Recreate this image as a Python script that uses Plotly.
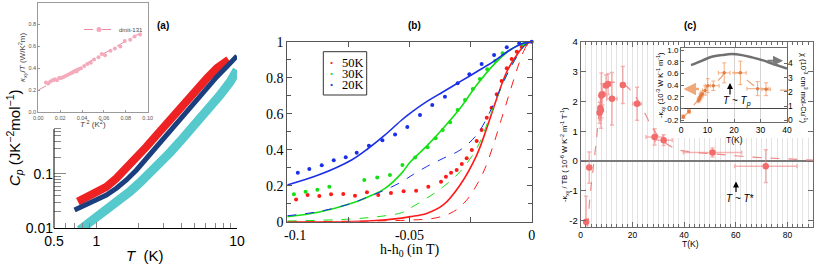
import plotly.graph_objects as go

W, H = 830, 264
def X(px): return px / W
def Y(py): return 1 - py / H

SANS = "Liberation Sans, Arial, sans-serif"
SERIF = "Liberation Serif, Times New Roman, serif"

# ---------------- panel (a) main : Cp vs T (log-log)
a_T_red = [0.739, 0.848, 1.0, 1.179, 1.389, 1.637, 1.93, 2.275, 2.683, 3.162, 3.728, 4.394, 5.18, 6.11, 7.2, 8.72]
a_Cp_red = [0.031, 0.038, 0.047, 0.058, 0.083, 0.127, 0.195, 0.318, 0.52, 0.86, 1.40, 2.31, 3.78, 5.78, 8.85, 12.6]
a_T_navy = [0.70, 0.848, 1.0, 1.179, 1.389, 1.637, 1.93, 2.275, 2.683, 3.162, 3.728, 4.394, 5.18, 6.11, 7.2, 8.48, 10.0]
a_Cp_navy = [0.0217, 0.028, 0.0347, 0.041, 0.0546, 0.0776, 0.1186, 0.195, 0.318, 0.522, 0.859, 1.40, 2.31, 3.78, 6.19, 9.46, 14.9]
a_T_cyan = [0.760, 0.896, 1.056, 1.245, 1.467, 1.729, 2.038, 2.402, 2.83, 3.337, 3.93, 4.64, 5.47, 6.44, 7.59, 8.95, 10.0]
a_Cp_cyan = [0.0093, 0.0127, 0.0169, 0.0233, 0.0332, 0.0472, 0.0692, 0.103, 0.157, 0.247, 0.394, 0.627, 1.02, 1.69, 2.85, 5.0, 8.2]

# ---------------- panel (a) inset
ai_T2 = [0.007, 0.009, 0.011, 0.013, 0.015, 0.017, 0.019, 0.021, 0.023, 0.025, 0.027, 0.029, 0.031, 0.033,
         0.035, 0.037, 0.039, 0.042, 0.045, 0.048, 0.051, 0.055, 0.058, 0.061, 0.066, 0.070, 0.075, 0.079,
         0.084, 0.088, 0.093]
ai_k = [0.27, 0.26, 0.28, 0.29, 0.30, 0.29, 0.31, 0.31, 0.32, 0.33, 0.34, 0.35, 0.36, 0.37, 0.37, 0.39,
        0.40, 0.42, 0.44, 0.45, 0.48, 0.50, 0.53, 0.52, 0.56, 0.58, 0.60, 0.65, 0.66, 0.69, 0.71]
ai_fit_T2 = [0.0, 0.1]
ai_fit_k = [0.2, 0.76]

# ---------------- panel (b)
b20_line_x = [-0.1, -0.0873, -0.0737, -0.0668, -0.060, -0.0532, -0.0498, -0.043, -0.0362, -0.0293, -0.0225, -0.0157, -0.0089, -0.0034, 0]
b20_line_y = [0.204, 0.259, 0.343, 0.408, 0.482, 0.565, 0.602, 0.667, 0.722, 0.778, 0.833, 0.889, 0.954, 0.991, 1.0]
b20_x = [-0.0957, -0.0910, -0.0859, -0.0810, -0.0761, -0.0716, -0.0666, -0.0611, -0.0559, -0.0509, -0.0457,
         -0.0407, -0.0355, -0.0303, -0.0255, -0.0205, -0.0154, -0.0102, -0.0051, 0]
b20_y = [0.272, 0.293, 0.313, 0.341, 0.358, 0.383, 0.422, 0.452, 0.485, 0.526, 0.593, 0.648, 0.694, 0.769,
         0.819, 0.876, 0.926, 0.969, 0.991, 1.0]
b20_dash_x = [-0.1, -0.0873, -0.0737, -0.0668, -0.060, -0.0532, -0.0484, -0.043, -0.0362, -0.0293, -0.0225, -0.0184, -0.0143, -0.0102, -0.0061, -0.0027, 0]
b20_dash_y = [0.033, 0.056, 0.102, 0.139, 0.176, 0.222, 0.263, 0.306, 0.352, 0.398, 0.482, 0.574, 0.694, 0.815, 0.917, 0.982, 1.0]

b30_line_x = [-0.1, -0.0873, -0.0737, -0.0668, -0.060, -0.0532, -0.0498, -0.043, -0.0362, -0.0293, -0.0225, -0.0157, -0.0089, -0.0034, 0]
b30_line_y = [0.028, 0.052, 0.102, 0.139, 0.185, 0.27, 0.33, 0.42, 0.519, 0.63, 0.759, 0.87, 0.954, 0.991, 1.0]
b30_x = [-0.0973, -0.0925, -0.0877, -0.0828, -0.0685, -0.0632, -0.058, -0.0529, -0.0477, -0.0426, -0.0393,
         -0.0364, -0.0334, -0.0303, -0.0273, -0.0241, -0.0212, -0.0182, -0.015, -0.0119, -0.0034]
b30_y = [0.152, 0.167, 0.178, 0.194, 0.232, 0.245, 0.259, 0.315, 0.357, 0.413, 0.463, 0.509, 0.552, 0.621,
         0.676, 0.737, 0.793, 0.847, 0.893, 0.936, 0.985]
b30_dash_x = [-0.1, -0.0737, -0.060, -0.0532, -0.0498, -0.043, -0.0362, -0.0293, -0.0225, -0.0184, -0.0143, -0.0102, -0.0061, -0.0027, 0]
b30_dash_y = [0.004, 0.015, 0.033, 0.05, 0.075, 0.13, 0.194, 0.278, 0.407, 0.537, 0.685, 0.815, 0.917, 0.982, 1.0]

b50_line_x = [-0.1, -0.0668, -0.0532, -0.0498, -0.043, -0.0362, -0.0293, -0.0225, -0.0184, -0.0143, -0.0102, -0.0061, -0.0027, 0]
b50_line_y = [0.0, 0.004, 0.02, 0.028, 0.046, 0.093, 0.204, 0.37, 0.519, 0.685, 0.833, 0.926, 0.982, 1.0]
b50_x = [-0.0964, -0.0917, -0.0869, -0.0821, -0.0771, -0.0723, -0.0674, -0.0628, -0.0576, -0.0524, -0.0473,
         -0.0423, -0.0371, -0.0351, -0.033, -0.0307, -0.0286, -0.0266, -0.0245, -0.0225, -0.0205, -0.0184,
         -0.0164, -0.0143, -0.0123, -0.0102, -0.0082, -0.0061, -0.0041, -0.0023]
b50_y = [0.124, 0.148, 0.143, 0.152, 0.154, 0.144, 0.163, 0.148, 0.159, 0.169, 0.172, 0.194, 0.222, 0.25,
         0.272, 0.287, 0.32, 0.352, 0.398, 0.448, 0.509, 0.578, 0.633, 0.708, 0.782, 0.852, 0.904, 0.944,
         0.972, 0.987]
b50_dash_x = [-0.1, -0.0498, -0.0389, -0.032, -0.0266, -0.0225, -0.0191, -0.0157, -0.0123, -0.0089, -0.0061, -0.0034, -0.0014, 0]
b50_dash_y = [0.0, 0.009, 0.022, 0.056, 0.12, 0.204, 0.296, 0.426, 0.574, 0.722, 0.843, 0.944, 0.991, 1.0]
b_legend = ["50K", "30K", "20K"]

# ---------------- panel (c) main
c_T = [2.1, 3.3, 7.3, 7.6, 7.8, 8.0, 8.4, 9.8, 10.6, 12.1, 16.3, 21.8, 28.6, 32.1, 51.0, 71.6]
c_k = [-2.03, -0.22, 1.62, 1.78, 1.70, 2.20, 2.24, 2.53, 2.58, 2.09, 2.55, 1.92, 0.81, 0.70, 0.29, -0.17]
c_kerr = [0.85, 0.52, 0.35, 0.40, 0.60, 0.75, 0.35, 0.35, 0.35, 0.88, 0.62, 0.55, 0.27, 0.18, 0.15, 0.55]
c_Terr = [0.3, 0.3, 0.3, 0.3, 0.3, 0.5, 0.8, 0.8, 0.8, 2.0, 0.0, 1.6, 3.3, 3.3, 11.3, 12.0]
c_fit_T = [2.7, 3.6, 4.9, 6.2, 7.1, 8.8, 10.7, 13.9, 17.2, 20.4, 23.6, 27.5, 31.4, 36.5, 40.4, 52.6, 65.4, 78.2, 90]
c_fit_k = [-2.2, -1.19, -0.19, 0.81, 1.6, 2.37, 2.62, 2.63, 2.54, 2.26, 1.82, 1.15, 0.70, 0.42, 0.33, 0.23, 0.14, 0.08, 0.03]

# ---------------- panel (c) inset
ci_T = [0.9, 3.0, 6.6, 7.0, 7.3, 7.6, 8.0, 9.1, 10.1, 12.2, 16.3, 22.4, 28.9, 32.1]
ci_k = [-0.14, -0.05, 0.14, 0.17, 0.20, 0.23, 0.25, 0.31, 0.39, 0.39, 0.61, 0.61, 0.34, 0.33]
ci_kerr = [0.03, 0.03, 0.04, 0.04, 0.05, 0.05, 0.05, 0.08, 0.12, 0.08, 0.17, 0.2, 0.12, 0.11]
ci_Terr = [0.5, 0.5, 0.3, 0.3, 0.3, 0.3, 0.5, 1.0, 1.0, 2.2, 2.2, 2.2, 4.0, 1.6]
ci_line_T = [0.3, 3.0, 7.3, 10.1, 12.2, 15.5, 16.3, 22.4, 24.5, 28.9, 32.1, 40]
ci_line_k = [-0.17, -0.05, 0.2, 0.39, 0.40, 0.55, 0.61, 0.61, 0.5, 0.34, 0.33, 0.31]
chi_T = [3.8, 7.8, 11.6, 15.4, 19.2, 23.0, 26.8, 30.6, 34.3, 38.1, 40]
chi_v = [3.88, 4.19, 4.47, 4.59, 4.66, 4.59, 4.43, 4.24, 4.0, 3.76, 3.64]

RED, GREEN, BLUE = "#ff1a1a", "#14e014", "#1a2fe8"
fig = go.Figure()

# (a) main
fig.add_trace(go.Scatter(x=a_T_cyan, y=a_Cp_cyan, mode="lines", line=dict(color="#55c9cc", width=9),
                         xaxis="x", yaxis="y", showlegend=False))
fig.add_trace(go.Scatter(x=a_T_red, y=a_Cp_red, mode="lines", line=dict(color="#ee2222", width=8),
                         xaxis="x", yaxis="y", showlegend=False))
fig.add_trace(go.Scatter(x=a_T_navy, y=a_Cp_navy, mode="lines", line=dict(color="#1b3f7e", width=5),
                         xaxis="x", yaxis="y", showlegend=False))
# (a) inset
fig.add_trace(go.Scatter(x=ai_fit_T2, y=ai_fit_k, mode="lines", line=dict(color="#e88aa0", width=1, dash="dash"),
                         xaxis="x2", yaxis="y2", showlegend=False))
fig.add_trace(go.Scatter(x=ai_T2, y=ai_k, mode="markers", marker=dict(color="#f4aabb", size=4),
                         xaxis="x2", yaxis="y2", showlegend=False))
fig.add_trace(go.Scatter(x=[None], y=[None], mode="lines+markers", name="dmit-131",
                         marker=dict(color="#f4aabb", size=5, symbol="circle"),
                         line=dict(color="#e88aa0", width=1, dash="dash"),
                         xaxis="x2", yaxis="y2", showlegend=True))

# (b)
for lx, ly, dx, dy, px_, py_, col in [
    (b50_line_x, b50_line_y, b50_dash_x, b50_dash_y, b50_x, b50_y, RED),
    (b30_line_x, b30_line_y, b30_dash_x, b30_dash_y, b30_x, b30_y, GREEN),
    (b20_line_x, b20_line_y, b20_dash_x, b20_dash_y, b20_x, b20_y, BLUE),
]:
    fig.add_trace(go.Scatter(x=dx, y=dy, mode="lines", line=dict(color=col, width=1, dash="dash", shape="spline"),
                             xaxis="x3", yaxis="y3", showlegend=False))
    fig.add_trace(go.Scatter(x=lx, y=ly, mode="lines", line=dict(color=col, width=1.6, shape="spline"),
                             xaxis="x3", yaxis="y3", showlegend=False))
    fig.add_trace(go.Scatter(x=px_, y=py_, mode="markers", marker=dict(color=col, size=4),
                             xaxis="x3", yaxis="y3", showlegend=False, cliponaxis=False))

# (c) main
fig.add_trace(go.Scatter(x=c_fit_T, y=c_fit_k, mode="lines",
                         line=dict(color="#ef8a8a", width=1.2, dash="dash", shape="spline"),
                         xaxis="x4", yaxis="y4", showlegend=False))
fig.add_trace(go.Scatter(x=c_T, y=c_k, mode="markers",
                         marker=dict(color="#f26c6c", size=6.5),
                         error_y=dict(type="data", array=c_kerr, color="rgba(240,120,120,0.55)", thickness=1.5, width=2),
                         error_x=dict(type="data", array=c_Terr, color="rgba(240,120,120,0.55)", thickness=1.5, width=2),
                         xaxis="x4", yaxis="y4", showlegend=False))
# (c) inset
fig.add_trace(go.Scatter(x=chi_T, y=chi_v, mode="lines", line=dict(color="#707070", width=2.5, shape="spline"),
                         xaxis="x5", yaxis="y6", showlegend=False))
fig.add_trace(go.Scatter(x=ci_line_T, y=ci_line_k, mode="lines", line=dict(color="#eba070", width=1.2, dash="dash"),
                         xaxis="x5", yaxis="y5", showlegend=False))
fig.add_trace(go.Scatter(x=ci_T, y=ci_k, mode="markers", marker=dict(color="#e27d45", size=3.5),
                         error_y=dict(type="data", array=ci_kerr, color="#f2ad80", thickness=1, width=2),
                         error_x=dict(type="data", array=ci_Terr, color="#f2ad80", thickness=1, width=2),
                         xaxis="x5", yaxis="y5", showlegend=False))

gray = "#888888"
layout = dict(
    width=W, height=H, autosize=False,
    margin=dict(l=0, r=0, t=0, b=0, pad=0),
    paper_bgcolor="white", plot_bgcolor="white",
    font=dict(family=SANS, color="black"),
    # ---- (a) main
    xaxis=dict(type="log", range=[-0.30103, 1.0], domain=[X(54), X(237)], anchor="y", automargin=False,
               showline=True, linecolor="black", linewidth=1, showgrid=False, zeroline=False,
               tickvals=[0.5, 1, 10], ticktext=["0.5", "1", "10"], ticks="inside", ticklen=6,
               tickcolor=gray, tickfont=dict(family=SANS, size=14),
               minor=dict(tickvals=[0.6, 0.7, 0.8, 0.9, 2, 3, 4, 5, 6, 7, 8, 9], ticks="inside",
                          ticklen=5, tickcolor=gray, showgrid=False)),
    yaxis=dict(type="log", range=[-2.0, 1.3], domain=[Y(228.3), Y(49)], anchor="x", automargin=False,
               showline=False, showgrid=False, zeroline=False,
               tickvals=[0.01, 0.1], ticktext=["0.01", "0.1"], ticks="inside", ticklen=12,
               tickcolor=gray, tickfont=dict(family=SANS, size=14),
               minor=dict(tickvals=[0.02, 0.03, 0.04, 0.05, 0.06, 0.07, 0.08, 0.09, 0.2, 0.3, 0.4, 0.5, 0.6, 0.7],
                          ticks="inside", ticklen=7, tickcolor=gray, showgrid=False)),
    # ---- (a) inset
    xaxis2=dict(range=[0, 0.1], domain=[X(38.3), X(147.7)], anchor="y2", automargin=False,
                showline=True, mirror=True,
                linecolor="#9a9a9a", linewidth=1, showgrid=False, zeroline=False, dtick=0.02, tickformat=".2f",
                ticks="inside", ticklen=2, tickcolor="#9a9a9a", tickfont=dict(size=5.5, color="#555")),
    yaxis2=dict(range=[0, 1], domain=[Y(112), Y(2.7)], anchor="x2", automargin=False,
                showline=True, mirror=True,
                linecolor="#9a9a9a", linewidth=1, showgrid=False, zeroline=False, dtick=0.2, tickformat=".1f",
                ticks="inside", ticklen=2, tickcolor="#9a9a9a", tickfont=dict(size=5.5, color="#555")),
    # ---- (b)
    xaxis3=dict(range=[-0.1, 0], domain=[X(287.3), X(531.7)], anchor="y3", automargin=False,
                showline=True, mirror="ticks",
                linecolor="#555", linewidth=1, showgrid=False, zeroline=False,
                tickvals=[-0.1, -0.05, 0], ticktext=["", "-0.05", "0"], ticks="inside", ticklen=5,
                tickcolor="#555", tickfont=dict(family=SERIF, size=14),
                minor=dict(tickvals=[-0.075, -0.025], ticks="inside", ticklen=5, tickcolor="#555", showgrid=False)),
    yaxis3=dict(range=[0, 1], domain=[Y(221.7), Y(41.7)], anchor="x3", automargin=False,
                showline=True, mirror="ticks",
                linecolor="#555", linewidth=1, showgrid=False, zeroline=False,
                tickvals=[0, 0.2, 0.4, 0.6, 0.8, 1], ticktext=["0", "0.2", "0.4", "0.6", "0.8", "1"],
                ticks="inside", ticklen=5, tickcolor="#555", tickfont=dict(family=SERIF, size=14),
                minor=dict(tickvals=[0.1, 0.3, 0.5, 0.7, 0.9], ticks="inside", ticklen=4, tickcolor="#555", showgrid=False)),
    # ---- (c) main
    xaxis4=dict(range=[0, 90], domain=[X(580.7), X(813.3)], anchor="y4", automargin=False,
                showline=True, mirror="ticks",
                linecolor="#6a6a6a", linewidth=1.2, zeroline=False,
                tickvals=[0, 20, 40, 60, 80], ticks="inside", ticklen=5, tickcolor="#6a6a6a",
                showgrid=True, gridcolor="#e3e3e3", gridwidth=1, tickfont=dict(size=8.5),
                minor=dict(dtick=2, tick0=0, ticks="inside", ticklen=3, tickcolor="#6a6a6a",
                           showgrid=True, gridcolor="#e3e3e3", gridwidth=1)),
    yaxis4=dict(range=[-2.2, 4.0], domain=[Y(226.7), Y(41.7)], anchor="x4", automargin=False,
                showline=True, mirror="ticks",
                linecolor="#6a6a6a", linewidth=1.2, showgrid=False,
                zeroline=True, zerolinecolor="#7a7a7a", zerolinewidth=2,
                tickvals=[-2, -1, 0, 1, 2, 3, 4], ticktext=["-2", "-1", "0", "1", "2", "3", "4"],
                ticks="inside", ticklen=5, tickcolor="#6a6a6a", tickfont=dict(size=9.5)),
    # ---- (c) inset
    xaxis5=dict(range=[0, 40], domain=[X(681), X(787)], anchor="y5", automargin=False,
                showline=True, mirror=True,
                linecolor="#6a6a6a", linewidth=1, zeroline=False, dtick=10, ticks="inside", ticklen=3,
                tickcolor="#6a6a6a", showgrid=True, gridcolor="#d4d4d4", tickfont=dict(size=8.5)),
    yaxis5=dict(range=[-0.23, 1.03], domain=[Y(122), Y(48.3)], anchor="x5", automargin=False,
                showline=True, mirror=True,
                linecolor="#6a6a6a", linewidth=1, showgrid=False,
                zeroline=True, zerolinecolor="#444", zerolinewidth=1.3,
                tickvals=[-0.2, 0, 0.2, 0.4, 0.6, 0.8, 1.0],
                ticktext=["-0.2", "0.0", "0.2", "0.4", "0.6", "0.8", "1.0"],
                ticks="inside", ticklen=3, tickcolor="#6a6a6a", tickfont=dict(size=8)),
    yaxis6=dict(range=[-0.12, 5.07], overlaying="y5", anchor="x5", side="right", showgrid=False,
                automargin=False, zeroline=False, showline=False, tickvals=[0, 1, 2, 3, 4], ticks="inside",
                ticklen=3, tickcolor="#6a6a6a", tickfont=dict(size=8.5)),
    legend=dict(x=X(79), y=Y(15), xanchor="left", yanchor="top", bgcolor="rgba(0,0,0,0)",
                font=dict(size=6, color="#444"), itemwidth=30, borderwidth=0, tracegroupgap=0),
)
fig.update_layout(**layout)

# decorative shapes
fig.add_shape(type="line", xref="paper", yref="paper", x0=X(54), x1=X(54), y0=Y(228.3), y1=Y(129),
              line=dict(color="black", width=1))
fig.add_shape(type="rect", xref="paper", yref="paper", x0=X(323.3), x1=X(366.7), y0=Y(95), y1=Y(51.7),
              line=dict(color="#333", width=1), fillcolor="white", layer="below")
fig.add_shape(type="rect", xref="x4", yref="y4", x0=29.0, x1=90, y0=0.77, y1=4.0,
              line=dict(width=0), fillcolor="white", layer="between")

ann = []
def txt(px, py, text, size, family=SANS, angle=0, xanchor="center", color="black"):
    ann.append(dict(x=X(px), y=Y(py), xref="paper", yref="paper", text=text, showarrow=False,
                    font=dict(size=size, family=family, color=color), textangle=angle,
                    xanchor=xanchor, yanchor="middle"))

# (a)
txt(163, 25, "<b>(a)</b>", 10)
txt(14, 138, "<i>C<sub>p</sub></i> (JK<sup>−2</sup>mol<sup>−1</sup>)", 15, angle=-90)
txt(145, 255, "<i>T</i>  (K)", 15)
txt(93, 124, "<i>T</i><sup> 2</sup> (K<sup>2</sup>)", 8, color="#444")
txt(22, 57, "<i>κ<sub>xy</sub></i>/<i>T</i> (W/K<sup>2</sup>m)", 8, angle=-90, color="#444")
# (b)
txt(414, 25, "<b>(b)</b>", 10)
txt(295, 235, "-0.1", 14, family=SERIF)
txt(409.5, 250, "h-h<sub>0</sub> (in T)", 14, family=SERIF)
for i, (lab, col) in enumerate(zip(b_legend, [RED, GREEN, BLUE])):
    py = 62.8 + 11.0 * i
    txt(331, py, "•", 9, family=SERIF, color=col)
    txt(339.5, py + 0.5, lab, 12.5, family=SERIF, xanchor="left")
# (c)
txt(690, 25, "<b>(c)</b>", 10)
txt(690, 244, "T(K)", 8.5)
txt(564, 155, "-κ<sub>xy</sub> / TB ( 10<sup>-6</sup> W K<sup>-2</sup> m<sup>-1</sup> T<sup>-1</sup>)", 7.5, angle=-90)
txt(734, 139.5, "T(K)", 8.5)
txt(660, 85, "-κ<sub>xy</sub> (10<sup>-3</sup> W K<sup>-1</sup> m<sup>-1</sup>)", 7.5, angle=-90)
txt(804, 88, "χ (10<sup>-3</sup> cm<sup>3</sup> mol-Cu<sup>-1</sup>)", 7.5, angle=90)
txt(737, 101, "<i>T</i> ~ <i>T<sub>p</sub></i>", 10)
txt(740, 198, "<i>T</i> ~ <i>T</i>*", 10)

def arrow(hx, hy, dx, dy, color, width, head=2, size=1):
    ann.append(dict(x=X(hx), y=Y(hy), xref="paper", yref="paper", text="", showarrow=True,
                    ax=dx, ay=dy, arrowcolor=color, arrowwidth=width, arrowhead=head, arrowsize=size))

arrow(683.5, 89, 17, 0, "#f0a878", 2.5, head=2, size=1)
arrow(783, 60.7, -17, 0, "#7a7a7a", 2, head=2, size=1)
arrow(730, 83, 0, 13, "black", 1.2, head=2, size=1)
arrow(736, 181.5, 0, 12, "black", 1.2, head=2, size=1)

fig.update_layout(annotations=ann)
fig.write_html("out.html", config={"displayModeBar": False},
               post_script="document.body.style.margin='0px';document.body.style.overflow='hidden';")
